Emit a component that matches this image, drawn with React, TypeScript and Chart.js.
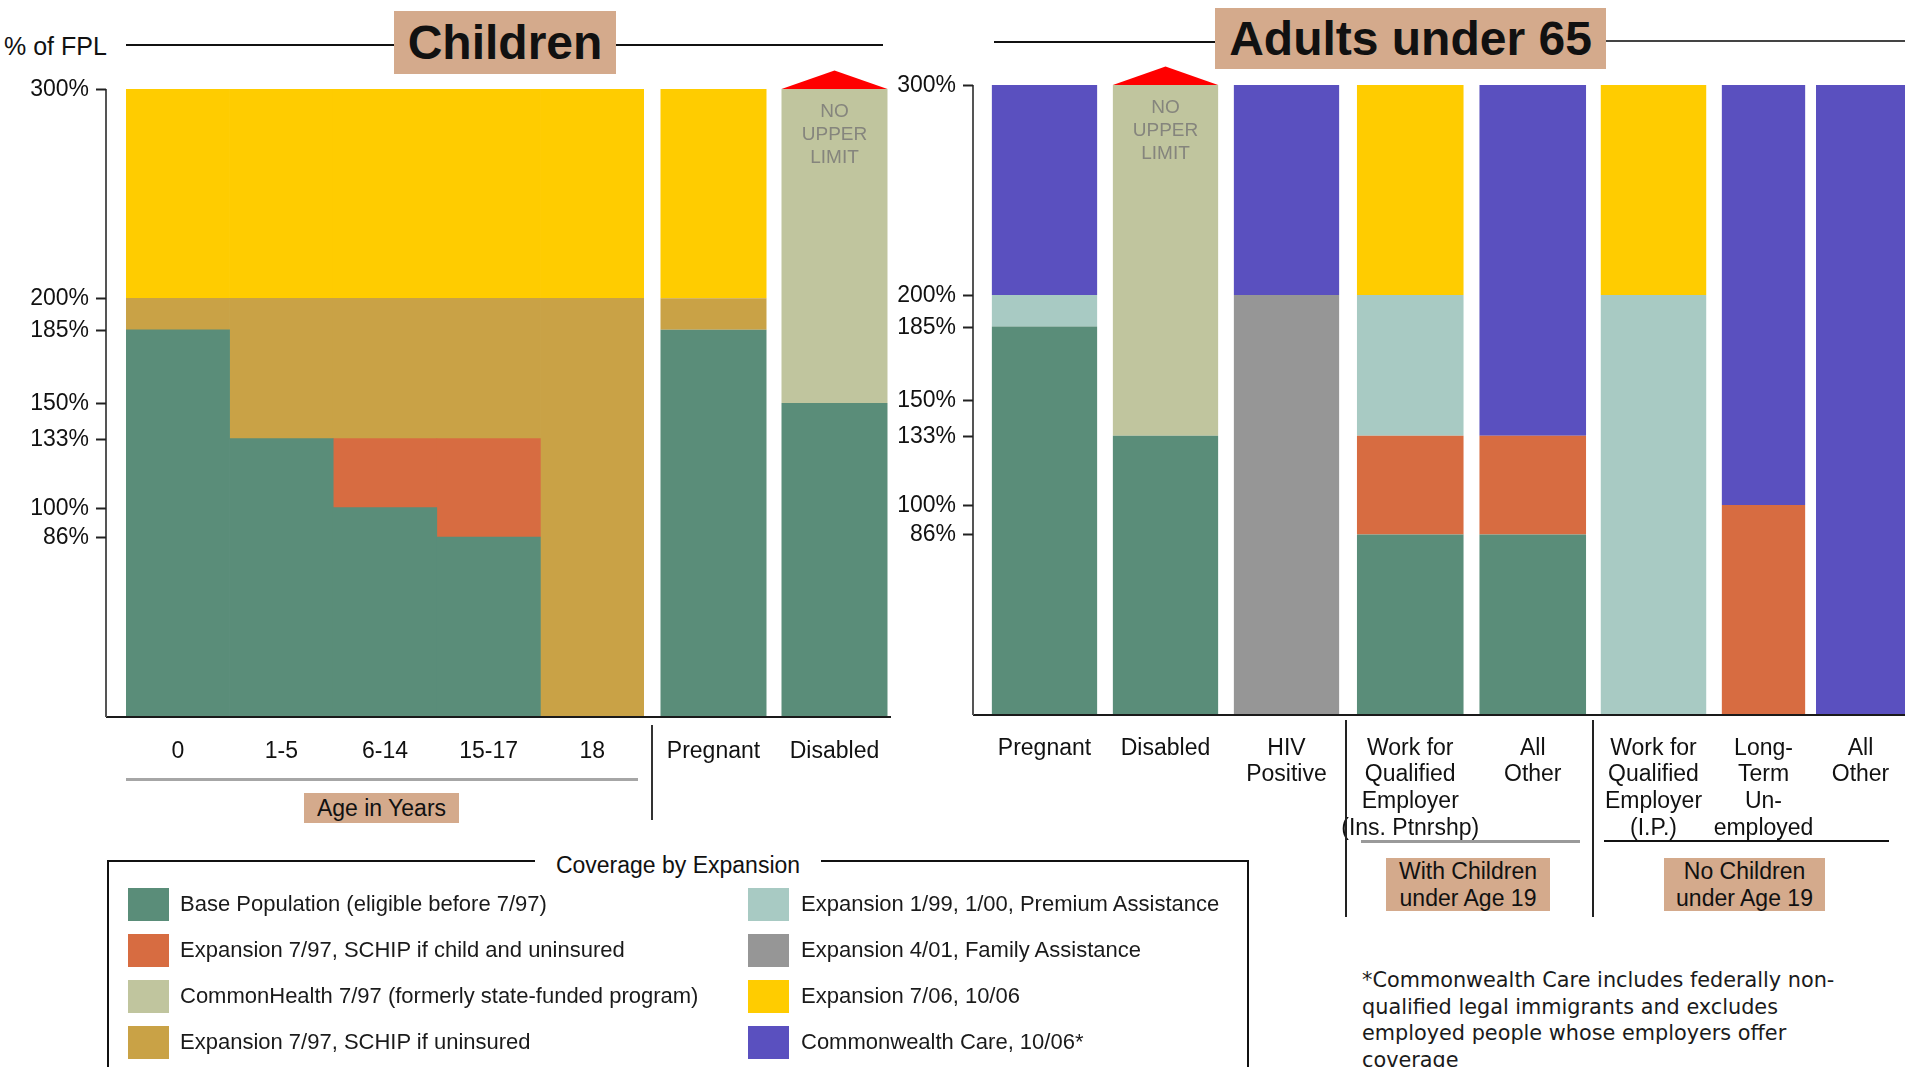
import React, { useEffect, useRef } from 'react';
import { Chart, registerables } from 'chart.js';

Chart.register(...registerables);

type Range = [number, number] | null;

// ---------- DATA ----------
const programNames = [
  'Base Population (eligible before 7/97)',
  'Expansion 7/97, SCHIP if child and uninsured',
  'CommonHealth 7/97 (formerly state-funded program)',
  'Expansion 7/97, SCHIP if uninsured',
  'Expansion 1/99, 1/00, Premium Assistance',
  'Expansion 4/01, Family Assistance',
  'Expansion 7/06, 10/06',
  'Commonwealth Care, 10/06*',
];
const programColors = ['#5A8D79', '#D76C41', '#C0C59E', '#C9A246', '#A8CAC3', '#969696', '#FFCC00', '#5A50BF'];

const yTickValues = [86, 100, 133, 150, 185, 200, 300];
const yMax = 300;
const noUpperLimitText = ['NO', 'UPPER', 'LIMIT'];

const leftCategories: (string | string[])[] = ['0', '1-5', '6-14', '15-17', '18', 'Pregnant', 'Disabled'];
const leftBase: Range[] = [[0, 185], [0, 133], [0, 100], [0, 86], null, [0, 185], [0, 150]];
const leftSchipChild: Range[] = [null, null, [100, 133], [86, 133], null, null, null];
const leftCommonHealth: Range[] = [null, null, null, null, null, null, [150, 300]];
const leftSchipUninsured: Range[] = [[185, 200], [133, 200], [133, 200], [133, 200], [0, 200], [185, 200], null];
const leftExp0706: Range[] = [[200, 300], [200, 300], [200, 300], [200, 300], [200, 300], [200, 300], null];
const leftNoUpperLimit = [false, false, false, false, false, false, true];

const rightCategories: (string | string[])[] = [
  'Pregnant',
  'Disabled',
  ['HIV', 'Positive'],
  ['Work for', 'Qualified', 'Employer', '(Ins. Ptnrshp)'],
  ['All', 'Other'],
  ['Work for', 'Qualified', 'Employer', '(I.P.)'],
  ['Long-', 'Term', 'Un-', 'employed'],
  ['All', 'Other'],
];
const rightBase: Range[] = [[0, 185], [0, 133], null, [0, 86], [0, 86], null, null, null];
const rightSchipChild: Range[] = [null, null, null, [86, 133], [86, 133], null, [0, 100], null];
const rightCommonHealth: Range[] = [null, [133, 300], null, null, null, null, null, null];
const rightPremium: Range[] = [[185, 200], null, null, [133, 200], null, [0, 200], null, null];
const rightFamily: Range[] = [null, null, [0, 200], null, null, null, null, null];
const rightExp0706: Range[] = [null, null, null, [200, 300], null, [200, 300], null, null];
const rightCwCare: Range[] = [[200, 300], null, [200, 300], null, [133, 300], null, [100, 300], [0, 300]];
const rightNoUpperLimit = [false, true, false, false, false, false, false, false];

const leftSeries: (Range[] | null)[] = [leftBase, leftSchipChild, leftCommonHealth, leftSchipUninsured, null, null, leftExp0706, null];
const rightSeries: (Range[] | null)[] = [rightBase, rightSchipChild, rightCommonHealth, null, rightPremium, rightFamily, rightExp0706, rightCwCare];

// ---------- LAYOUT ----------
const FONT = '"Liberation Sans", Arial, sans-serif';
const TAN = '#D4AA8C';
const PAD_TOP = 45;
const X_AXIS_H = 150;

interface Group {
  from: number; to: number; areaLeft: number; areaRight: number; barPct: number;
  padL: number; padR: number; axisGap: number; baseL: number; baseR: number;
}
interface Side {
  categories: (string | string[])[]; series: (Range[] | null)[]; noUpper: boolean[];
  y300: number; y0: number; tickPad: number; groups: Group[];
}

const sides: Side[] = [
  {
    categories: leftCategories, series: leftSeries, noUpper: leftNoUpperLimit,
    y300: 89, y0: 717, tickPad: 21,
    groups: [
      { from: 0, to: 5, areaLeft: 126, areaRight: 644, barPct: 1, padL: 126, padR: 80, axisGap: 20, baseL: 20, baseR: 9 },
      { from: 5, to: 7, areaLeft: 653, areaRight: 895, barPct: 0.876, padL: 80, padR: 80, axisGap: 0, baseL: 1, baseR: -4 },
    ],
  },
  {
    categories: rightCategories, series: rightSeries, noUpper: rightNoUpperLimit,
    y300: 85, y0: 715, tickPad: 20,
    groups: [
      { from: 0, to: 3, areaLeft: 984, areaRight: 1347, barPct: 0.87, padL: 110, padR: 80, axisGap: 11, baseL: 11, baseR: 1 },
      { from: 3, to: 5, areaLeft: 1349, areaRight: 1594, barPct: 0.87, padL: 80, padR: 80, axisGap: 0, baseL: 2, baseR: 2 },
      { from: 5, to: 6, areaLeft: 1598, areaRight: 1709, barPct: 0.95, padL: 80, padR: 80, axisGap: 0, baseL: 2, baseR: 7 },
      { from: 6, to: 7, areaLeft: 1716, areaRight: 1811, barPct: 0.877, padL: 80, padR: 80, axisGap: 0, baseL: 0, baseR: 6 },
      { from: 7, to: 8, areaLeft: 1816, areaRight: 1905, barPct: 1, padL: 80, padR: 80, axisGap: 0, baseL: 1, baseR: 10 },
    ],
  },
];

function GroupChart({ side, group }: { side: Side; group: Group }) {
  const ref = useRef<HTMLCanvasElement>(null);
  const areaW = group.areaRight - group.areaLeft;
  const areaH = side.y0 - side.y300;
  const w = group.padL + areaW + group.padR;
  const h = PAD_TOP + areaH + X_AXIS_H;
  const left = group.areaLeft - group.padL;
  const top = side.y300 - PAD_TOP;

  useEffect(() => {
    if (!ref.current) return;
    const labels = side.categories.slice(group.from, group.to);
    const noUpper = side.noUpper.slice(group.from, group.to);
    const datasets: any[] = [];
    programNames.forEach((name, i) => {
      const s = side.series[i];
      if (!s) return;
      datasets.push({
        label: name,
        data: s.slice(group.from, group.to),
        backgroundColor: programColors[i],
        borderWidth: 0,
        grouped: false,
        barPercentage: group.barPct,
        categoryPercentage: 1,
      });
    });

    const decor = {
      id: 'decor',
      afterDatasetsDraw(chart: any) {
        const { ctx, chartArea, scales } = chart;
        const ys = scales.y;
        const y0 = ys.getPixelForValue(0);
        const yTop = ys.getPixelForValue(yMax);
        ctx.save();
        // baseline (x axis line)
        ctx.strokeStyle = '#1a1a1a';
        ctx.lineWidth = 2;
        ctx.beginPath();
        ctx.moveTo(chartArea.left - group.baseL, y0);
        ctx.lineTo(chartArea.right + group.baseR, y0);
        ctx.stroke();
        if (group.axisGap > 0) {
          const ax = chartArea.left - group.axisGap;
          ctx.strokeStyle = '#555';
          ctx.lineWidth = 2;
          ctx.beginPath();
          ctx.moveTo(ax, yTop);
          ctx.lineTo(ax, y0);
          ctx.stroke();
          ctx.strokeStyle = '#222';
          ctx.fillStyle = '#111';
          ctx.font = `23px ${FONT}`;
          ctx.textAlign = 'right';
          ctx.textBaseline = 'middle';
          yTickValues.forEach((v) => {
            const py = Math.round(ys.getPixelForValue(v)) + 0.5;
            ctx.beginPath();
            ctx.moveTo(ax - 10, py);
            ctx.lineTo(ax, py);
            ctx.stroke();
            ctx.fillText(`${v}%`, ax - 17, py);
          });
        }
        // "no upper limit" markers
        noUpper.forEach((flag, i) => {
          if (!flag) return;
          chart.data.datasets.forEach((ds: any, di: number) => {
            const d = ds.data[i];
            if (!Array.isArray(d) || d[1] !== yMax) return;
            const el = chart.getDatasetMeta(di).data[i];
            const { x, y, base, width } = el.getProps(['x', 'y', 'base', 'width'], true);
            const t = Math.min(y, base);
            ctx.fillStyle = '#FF0000';
            ctx.beginPath();
            ctx.moveTo(x - width / 2, t);
            ctx.lineTo(x, t - 18.5);
            ctx.lineTo(x + width / 2, t);
            ctx.closePath();
            ctx.fill();
            ctx.fillStyle = '#85857d';
            ctx.font = `19px ${FONT}`;
            ctx.textAlign = 'center';
            ctx.textBaseline = 'middle';
            noUpperLimitText.forEach((line, li) => ctx.fillText(line, x, t + 23 + li * 23));
          });
        });
        ctx.restore();
      },
    };

    const chart = new Chart(ref.current, {
      type: 'bar',
      data: { labels, datasets },
      options: {
        responsive: false,
        animation: false,
        devicePixelRatio: 1,
        layout: { autoPadding: false, padding: { top: PAD_TOP, left: group.padL, right: group.padR, bottom: 0 } },
        plugins: { legend: { display: false }, tooltip: { enabled: false }, title: { display: false } },
        scales: {
          x: {
            type: 'category',
            offset: true,
            grid: { display: false, drawTicks: false },
            border: { display: false },
            ticks: {
              autoSkip: false,
              maxRotation: 0,
              minRotation: 0,
              padding: side.tickPad,
              color: '#111',
              font: { family: FONT, size: 23, lineHeight: 1.16 },
            },
            afterFit: (s: any) => { s.height = X_AXIS_H; },
          },
          y: { display: false, min: 0, max: yMax },
        },
      } as any,
      plugins: [decor],
    });
    return () => chart.destroy();
  }, []);

  return (
    <canvas
      ref={ref}
      width={w}
      height={h}
      style={{ position: 'absolute', left, top, width: w, height: h }}
    />
  );
}

const abs = (l: number, t: number, w: number, h: number, extra: React.CSSProperties = {}): React.CSSProperties => ({
  position: 'absolute', left: l, top: t, width: w, height: h, ...extra,
});

export default function App() {
  const legendRows = [904, 950, 996, 1042];
  return (
    <div style={{ position: 'absolute', left: 0, top: 0, width: 1905, height: 1067, overflow: 'hidden', background: '#fff', fontFamily: FONT, color: '#111' }}>
      {/* top headers */}
      <div style={abs(4, 32, 115, 28, { fontSize: 25, lineHeight: '28px', whiteSpace: 'nowrap' })}>% of FPL</div>
      <div style={abs(126, 44, 268, 2, { background: '#111' })} />
      <div style={abs(394, 11, 222, 63, { background: TAN, fontSize: 48, fontWeight: 'bold', lineHeight: '63px', textAlign: 'center' })}>Children</div>
      <div style={abs(616, 44, 267, 2, { background: '#111' })} />
      <div style={abs(994, 41, 221, 2, { background: '#111' })} />
      <div style={abs(1215, 8, 391, 61, { background: TAN, fontSize: 48, fontWeight: 'bold', lineHeight: '61px', textAlign: 'center', whiteSpace: 'nowrap' })}>Adults under 65</div>
      <div style={abs(1606, 40, 299, 2, { background: '#444' })} />

      {sides.map((side, si) => side.groups.map((g, gi) => <GroupChart key={`${si}-${gi}`} side={side} group={g} />))}

      {/* left bottom decorations */}
      <div style={abs(126, 778, 512, 3, { background: '#a6a6a6' })} />
      <div style={abs(651, 725, 2, 95, { background: '#333' })} />
      <div style={abs(304, 793, 155, 30, { background: TAN, fontSize: 23, lineHeight: '30px', textAlign: 'center', whiteSpace: 'nowrap' })}>Age in Years</div>

      {/* right bottom decorations */}
      <div style={abs(1345, 720, 2, 197, { background: '#222' })} />
      <div style={abs(1592, 720, 2, 197, { background: '#222' })} />
      <div style={abs(1361, 840, 219, 3, { background: '#9a9a9a' })} />
      <div style={abs(1604, 840, 285, 2, { background: '#111' })} />
      <div style={abs(1386, 858, 164, 53, { background: TAN, fontSize: 23, lineHeight: '26.5px', textAlign: 'center', whiteSpace: 'nowrap' })}>
        With Children<br />under Age 19
      </div>
      <div style={abs(1664, 858, 161, 53, { background: TAN, fontSize: 23, lineHeight: '26.5px', textAlign: 'center', whiteSpace: 'nowrap' })}>
        No Children<br />under Age 19
      </div>

      {/* legend */}
      <div style={abs(107, 860, 1142, 260, { border: '2px solid #111', boxSizing: 'border-box' })} />
      <div style={abs(535, 851, 286, 28, { background: '#fff', fontSize: 23, lineHeight: '28px', textAlign: 'center', whiteSpace: 'nowrap' })}>Coverage by Expansion</div>
      {programNames.map((name, i) => {
        const col = i < 4 ? 0 : 1;
        const row = i % 4;
        const cy = legendRows[row];
        const sx = col === 0 ? 128 : 748;
        const tx = col === 0 ? 180 : 801;
        return (
          <React.Fragment key={name}>
            <div style={abs(sx, cy - 16, 41, 33, { background: programColors[i] })} />
            <div style={abs(tx, cy - 14, 440, 28, { fontSize: 22, lineHeight: '28px', whiteSpace: 'nowrap', color: '#1a1a1a' })}>{name}</div>
          </React.Fragment>
        );
      })}

      {/* footnote */}
      <div style={abs(1362, 967, 540, 110, { fontFamily: '"DejaVu Sans", sans-serif', fontSize: 20.8, lineHeight: '26.7px', whiteSpace: 'nowrap', color: '#1a1a1a' })}>
        *Commonwealth Care includes federally non-<br />
        qualified legal immigrants and excludes<br />
        employed people whose employers offer<br />
        coverage
      </div>
    </div>
  );
}
